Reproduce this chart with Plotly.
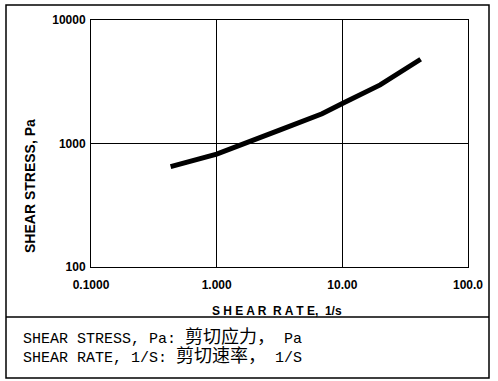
import plotly.graph_objects as go

shear_rate = [0.43, 1.0, 3.2, 6.9, 10.0, 20.0, 42.0]
shear_stress = [650, 820, 1290, 1740, 2110, 2980, 4810]

x_tickvals = [0.1, 1, 10, 100]
x_ticktext = ["0.1000", "1.000", "10.00", "100.0"]
y_tickvals = [100, 1000, 10000]
y_ticktext = ["100", "1000", "10000"]

x_title = "S H E A R  R A T E,  1/s"
y_title = "SHEAR STRESS, Pa"
note_lines = [
    "SHEAR STRESS, Pa: <span style='font-size:18px'>剪切应力，</span> Pa",
    "SHEAR RATE, 1/S: <span style='font-size:18px'>剪切速率，</span> 1/S",
]

W, H = 498, 381
L, R, T, B = 91, 468, 20, 267
pw, ph = R - L, B - T

def px(x):
    return (x - L) / pw

def py(y):
    return (B - y) / ph

fig = go.Figure()
fig.add_trace(go.Scatter(x=shear_rate, y=shear_stress, mode="lines",
                         line=dict(color="black", width=5), showlegend=False,
                         hoverinfo="skip"))

axis_font = dict(family="Liberation Sans, Arial, sans-serif", size=12, color="black", weight="bold")
fig.update_xaxes(type="log", range=[-1, 2], tickvals=x_tickvals, ticktext=x_ticktext,
                 showgrid=True, gridcolor="black", gridwidth=1, showline=True, linecolor="black",
                 linewidth=1, mirror=True, ticks="", tickfont=axis_font, ticklabelstandoff=7,
                 zeroline=False)
fig.update_yaxes(type="log", range=[2, 4], tickvals=y_tickvals, ticktext=y_ticktext,
                 showgrid=True, gridcolor="black", gridwidth=1, showline=True, linecolor="black",
                 linewidth=1, mirror=True, ticks="", tickfont=axis_font, ticklabelstandoff=2,
                 zeroline=False)

shapes = [
    dict(type="rect", xref="paper", yref="paper", x0=px(6), x1=px(489), y0=py(5), y1=py(378),
         line=dict(color="black", width=1.5)),
    dict(type="line", xref="paper", yref="paper", x0=px(6), x1=px(489), y0=py(317), y1=py(317),
         line=dict(color="black", width=1.5)),
]

annotations = [
    dict(text=x_title, xref="paper", yref="paper", x=px(277), y=py(311), showarrow=False,
         xanchor="center", yanchor="middle",
         font=dict(family="Liberation Sans, Arial, sans-serif", size=12, color="black", weight="bold")),
    dict(text=y_title, xref="paper", yref="paper", x=px(30), y=py(186), showarrow=False,
         textangle=-90, xanchor="center", yanchor="middle",
         font=dict(family="Liberation Sans, Arial, sans-serif", size=14, color="black", weight="bold")),
    dict(text=note_lines[0], xref="paper", yref="paper", x=px(21), y=py(337), showarrow=False,
         xanchor="left", yanchor="middle",
         font=dict(family="Liberation Mono, Noto Sans CJK SC, monospace", size=15, color="black")),
    dict(text=note_lines[1], xref="paper", yref="paper", x=px(21), y=py(356), showarrow=False,
         xanchor="left", yanchor="middle",
         font=dict(family="Liberation Mono, Noto Sans CJK SC, monospace", size=15, color="black")),
]

fig.update_layout(width=W, height=H, margin=dict(l=L, r=W - R, t=T, b=H - B, pad=0),
                  paper_bgcolor="white", plot_bgcolor="white", shapes=shapes,
                  annotations=annotations)

fig.write_html("out.html", config={"displayModeBar": False},
               post_script="document.body.style.margin='0';")
